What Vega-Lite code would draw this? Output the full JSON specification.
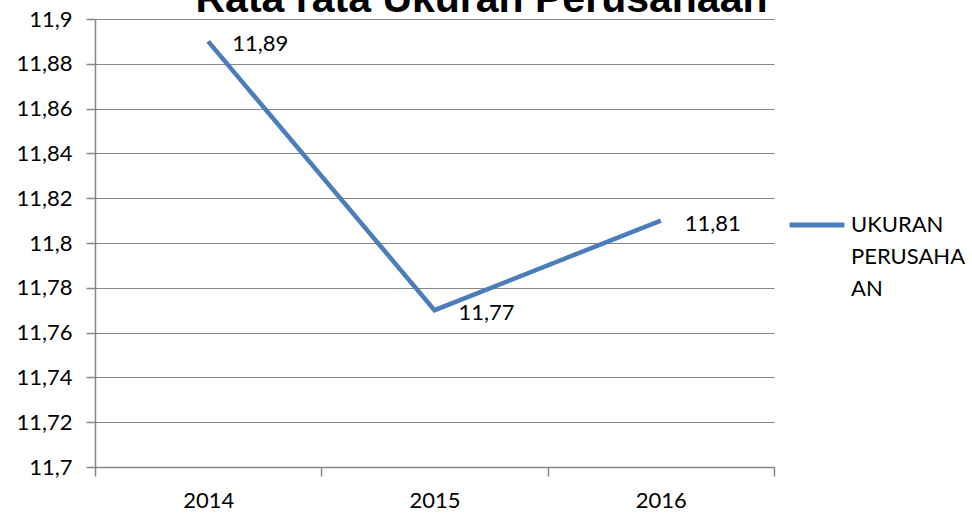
{
  "$schema": "https://vega.github.io/schema/vega-lite/v6.json",
  "width": 679,
  "height": 448,
  "autosize": {"type": "none"},
  "padding": {"left": 95, "top": 19, "right": 198, "bottom": 54},
  "background": "white",
  "title": {
    "text": "Rata rata Ukuran Perusahaan",
    "font": "Liberation Sans",
    "fontSize": 41,
    "fontWeight": "bold",
    "color": "#000000",
    "anchor": "middle",
    "frame": "group",
    "baseline": "alphabetic",
    "offset": 0,
    "dy": 45,
    "dx": 47
  },
  "config": {
    "locale": {"number": {"decimal": ",", "thousands": ".", "grouping": [3], "currency": ["", ""]}},
    "view": {"stroke": null},
    "font": "Lato",
    "style": {"guide-label": {"lineHeight": 32}}
  },
  "data": {
    "values": [
      {"tahun": "2014", "nilai": 11.89, "seri": "UKURAN PERUSAHAAN"},
      {"tahun": "2015", "nilai": 11.77, "seri": "UKURAN PERUSAHAAN"},
      {"tahun": "2016", "nilai": 11.81, "seri": "UKURAN PERUSAHAAN"}
    ]
  },
  "encoding": {
    "x": {
      "field": "tahun",
      "type": "ordinal",
      "bandPosition": 0.5,
      "scale": {"type": "band", "paddingInner": 0, "paddingOuter": 0},
      "axis": {
        "title": null,
        "labelAngle": 0,
        "tickBand": "extent",
        "labelFont": "Lato",
        "labelFontSize": 22,
        "labelColor": "#000000",
        "labelPadding": 14,
        "tickSize": 9,
        "tickColor": "#868686",
        "domainColor": "#868686",
        "domainWidth": 1.5,
        "tickWidth": 1.5,
        "grid": false
      }
    },
    "y": {
      "field": "nilai",
      "type": "quantitative",
      "scale": {"domain": [11.7, 11.9], "zero": false, "nice": false},
      "axis": {
        "title": null,
        "values": [11.7, 11.72, 11.74, 11.76, 11.78, 11.8, 11.82, 11.84, 11.86, 11.88, 11.9],
        "format": ".2~f",
        "labelFont": "Lato",
        "labelFontSize": 22,
        "labelColor": "#000000",
        "labelPadding": 14,
        "tickSize": 9,
        "tickColor": "#868686",
        "domainColor": "#868686",
        "domainWidth": 1.5,
        "tickWidth": 1.5,
        "grid": true,
        "gridColor": "#868686",
        "gridWidth": 1.2
      }
    }
  },
  "layer": [
    {
      "mark": {"type": "line", "strokeWidth": 4.5, "strokeCap": "butt"},
      "encoding": {
        "color": {
          "field": "seri",
          "type": "nominal",
          "scale": {"range": ["#4A7EBB"]},
          "legend": {
            "title": null,
            "orient": "none",
            "legendX": 692,
            "legendY": 176,
            "symbolType": "stroke",
            "symbolSize": 3000,
            "symbolStrokeWidth": 5,
            "labelFont": "Lato",
            "labelFontSize": 22,
            "labelColor": "#000000",
            "labelLimit": 300,
            "labelOffset": 4,
            "labelExpr": "['UKURAN', 'PERUSAHA', 'AN']"
          }
        }
      }
    },
    {
      "mark": {"type": "text", "align": "left", "baseline": "middle", "dx": 24, "dy": 3, "font": "Lato", "fontSize": 22, "color": "#000000"},
      "encoding": {
        "text": {"field": "nilai", "type": "quantitative", "format": ".2f"}
      }
    }
  ]
}
